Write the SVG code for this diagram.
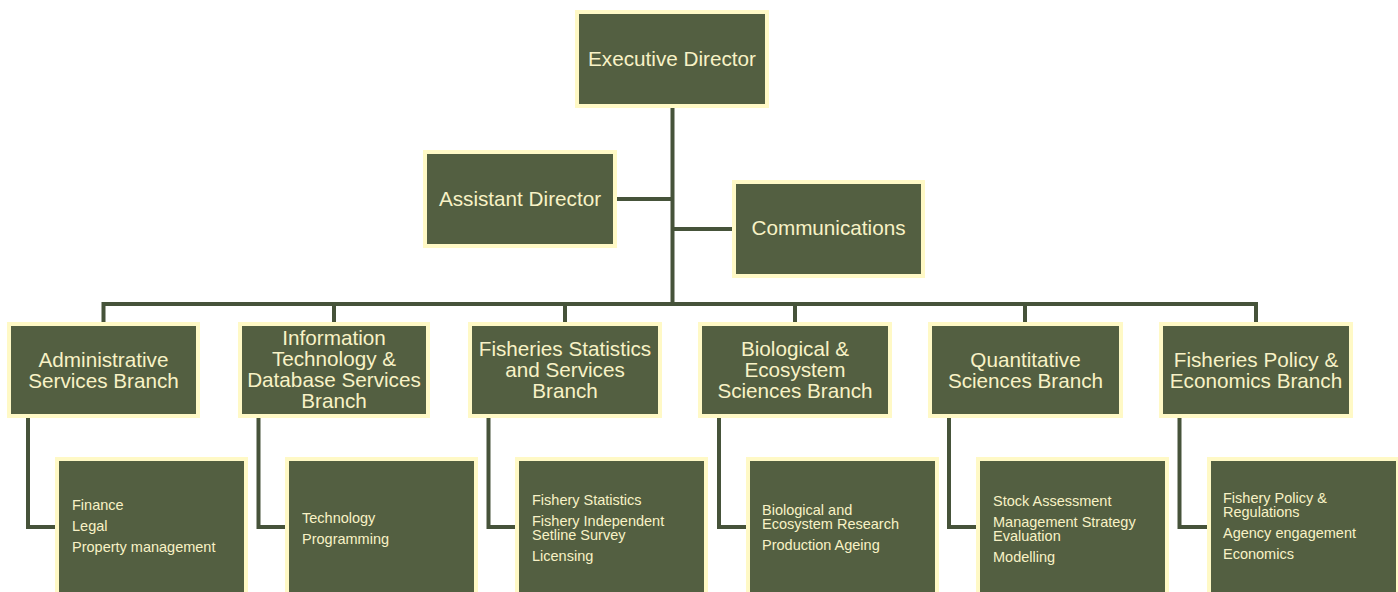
<svg xmlns="http://www.w3.org/2000/svg" width="1398" height="592" viewBox="0 0 1398 592">
<style>
.box{fill:#535F41;stroke:#FFF9C6;stroke-width:4}
.t{font-family:"Liberation Sans",Arial,sans-serif;font-size:20.7px;fill:#F8F2C6;text-anchor:middle}
.s{font-family:"Liberation Sans",Arial,sans-serif;font-size:14.5px;fill:#F8F2C6}
.c{fill:none;stroke:#46533A;stroke-width:4}
</style>
<rect width="1398" height="592" fill="#ffffff"/>
<g id="connectors">
<path class="c" d="M672.5,108 V304"/>
<path class="c" d="M617,199 H672.5"/>
<path class="c" d="M672.5,229 H732"/>
<path class="c" d="M103.5,322 V304 H1256 V322"/>
<path class="c" d="M334,304 V322 M565,304 V322 M795,304 V322 M1025,304 V322"/>
<path class="c" d="M28,418 V527 H55"/>
<path class="c" d="M258.5,418 V527 H285"/>
<path class="c" d="M488.5,418 V527 H515"/>
<path class="c" d="M719,418 V527 H746"/>
<path class="c" d="M949,418 V527 H976"/>
<path class="c" d="M1179.5,418 V527 H1207"/>
</g>
<g id="exec"><rect class="box" x="577" y="12" width="190" height="94"/><text class="t" x="672" y="66">Executive Director</text></g>
<g id="assistant"><rect class="box" x="425" y="152" width="190" height="94"/><text class="t" x="520" y="206">Assistant Director</text></g>
<g id="comms"><rect class="box" x="734" y="182" width="189" height="94"/><text class="t" x="828.5" y="235">Communications</text></g>

<g id="admin"><rect class="box" x="9" y="324" width="189" height="92"/><text class="t" x="103.5" y="367">Administrative<tspan x="103.5" dy="21">Services Branch</tspan></text></g>
<g id="it"><rect class="box" x="240" y="324" width="188" height="92"/><text class="t" x="334" y="345">Information<tspan x="334" dy="21">Technology &amp;</tspan><tspan x="334" dy="21">Database Services</tspan><tspan x="334" dy="21">Branch</tspan></text></g>
<g id="fss"><rect class="box" x="470" y="324" width="190" height="92"/><text class="t" x="565" y="356">Fisheries Statistics<tspan x="565" dy="21">and Services</tspan><tspan x="565" dy="21">Branch</tspan></text></g>
<g id="bes"><rect class="box" x="700" y="324" width="190" height="92"/><text class="t" x="795" y="356">Biological &amp;<tspan x="795" dy="21">Ecosystem</tspan><tspan x="795" dy="21">Sciences Branch</tspan></text></g>
<g id="qs"><rect class="box" x="930" y="324" width="191" height="92"/><text class="t" x="1025.5" y="367">Quantitative<tspan x="1025.5" dy="21">Sciences Branch</tspan></text></g>
<g id="fpe"><rect class="box" x="1161" y="324" width="190" height="92"/><text class="t" x="1256" y="367">Fisheries Policy &amp;<tspan x="1256" dy="21">Economics Branch</tspan></text></g>

<g id="admin-sub"><rect class="box" x="57" y="459" width="189" height="145"/><text class="s" x="72" y="510">Finance<tspan x="72" dy="21">Legal</tspan><tspan x="72" dy="21">Property management</tspan></text></g>
<g id="it-sub"><rect class="box" x="287" y="459" width="189" height="145"/><text class="s" x="302" y="523">Technology<tspan x="302" dy="21">Programming</tspan></text></g>
<g id="fss-sub"><rect class="box" x="517" y="459" width="189" height="145"/><text class="s" x="532" y="505">Fishery Statistics<tspan x="532" dy="21">Fishery Independent</tspan><tspan x="532" dy="14">Setline Survey</tspan><tspan x="532" dy="21">Licensing</tspan></text></g>
<g id="bes-sub"><rect class="box" x="748" y="459" width="189" height="145"/><text class="s" x="762" y="515">Biological and<tspan x="762" dy="14">Ecosystem Research</tspan><tspan x="762" dy="21">Production Ageing</tspan></text></g>
<g id="qs-sub"><rect class="box" x="978" y="459" width="189" height="145"/><text class="s" x="993" y="506">Stock Assessment<tspan x="993" dy="21">Management Strategy</tspan><tspan x="993" dy="14">Evaluation</tspan><tspan x="993" dy="21">Modelling</tspan></text></g>
<g id="fpe-sub"><rect class="box" x="1209" y="459" width="189" height="145"/><text class="s" x="1223" y="503">Fishery Policy &amp;<tspan x="1223" dy="14">Regulations</tspan><tspan x="1223" dy="21">Agency engagement</tspan><tspan x="1223" dy="21">Economics</tspan></text></g>
</svg>
